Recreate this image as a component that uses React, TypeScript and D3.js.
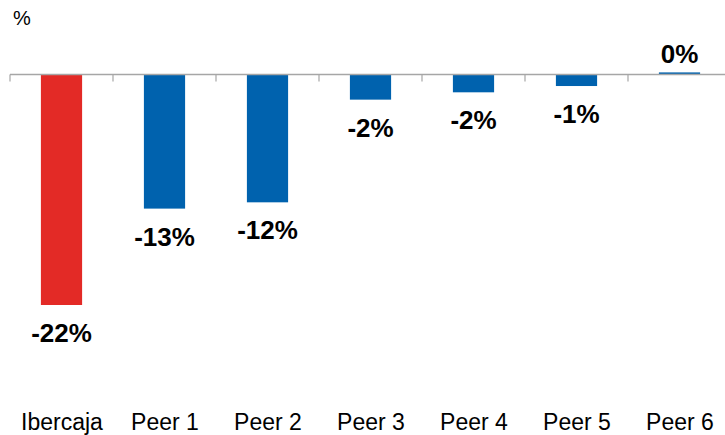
import React from "react";
import * as d3 from "d3";

const categories = ["Ibercaja", "Peer 1", "Peer 2", "Peer 3", "Peer 4", "Peer 5", "Peer 6"];
const values = [-22, -12.8, -12.2, -2.4, -1.7, -1.1, 0.2];
const barColors = ["#E32A26", "#0062AE", "#0062AE", "#0062AE", "#0062AE", "#0062AE", "#0062AE"];
const unitLabel = "%";

const W = 725;
const H = 435;

export default function App() {
  const x = d3.scaleBand<string>().domain(categories).range([10, 731]).padding(0);
  const y = d3.scaleLinear().domain([-22, 0]).range([305, 74.5]);
  const bw = x.bandwidth() * 0.4;
  const y0 = y(0);
  const fmt = (v: number) => `${Math.round(v) === 0 ? 0 : Math.round(v)}%`;
  const font = "Liberation Sans, Arial, sans-serif";

  return (
    <div style={{ position: "absolute", left: 0, top: 0, width: W, height: H, background: "#fff" }}>
      <svg width={W} height={H} style={{ display: "block" }}>
        <rect width={W} height={H} fill="#fff" />
        <text x={13} y={25} fontFamily={font} fontSize={20} fill="#000">{unitLabel}</text>
        {categories.map((c, i) => {
          const v = values[i];
          const cx = (x(c) as number) + x.bandwidth() / 2;
          const top = Math.min(y(v), y0);
          const h = Math.abs(y(v) - y0);
          return (
            <g key={c}>
              <rect x={cx - bw / 2} y={top} width={bw} height={Math.max(h, 0.5)} fill={barColors[i]} />
              <text
                x={cx}
                y={v < 0 ? y(v) + 37 : y(v) - 9}
                textAnchor="middle"
                fontFamily={font}
                fontWeight="bold"
                fontSize={26}
                fill="#000"
              >
                {fmt(v)}
              </text>
              <text x={cx + 0.5} y={430} textAnchor="middle" fontFamily={font} fontSize={23} fill="#000">
                {c}
              </text>
            </g>
          );
        })}
        <line x1={10} x2={W} y1={y0} y2={y0} stroke="#A6A6A6" strokeWidth={1.5} />
        {categories.map((c) => (
          <line key={"t" + c} x1={(x(c) as number)} x2={(x(c) as number)} y1={y0} y2={y0 + 7} stroke="#A6A6A6" strokeWidth={1.2} />
        ))}
      </svg>
    </div>
  );
}
